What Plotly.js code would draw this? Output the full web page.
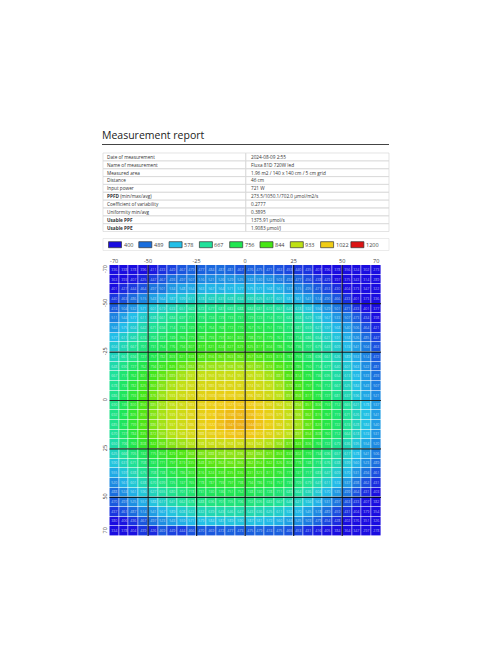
<!DOCTYPE html>
<html><head><meta charset="utf-8">
<script src="https://cdn.plot.ly/plotly-3.0.1.min.js"></script>
<style>html,body{margin:0;padding:0;background:#fff}#c{width:496px;height:664px}</style>
</head><body><div id="c"></div>
<script>
const titleText = "Measurement report";
const tableLabels = ["Date of measurement","Name of measurement","Measured area","Distance","Input power","<b>PPFD</b> (min/max/avg)","Coefficient of variability","Uniformity min/avg","<b>Usable PPF</b>","<b>Usable PPE</b>"];
const tableValues = ["2024-08-09 2:55","Fluxa 81D 720W led","1.96 m2 / 140 x 140 cm / 5 cm grid","46 cm","721 W","273.5/1050.1/702.0 µmol/m2/s","0.2777","0.3895","1375.91 µmol/s","1.9083 µmol/J"];
const legendValues = [400,489,578,667,756,844,933,1022,1200];
const legendColors = ["#1a0ce0","#1a6ede","#22bfe8","#1fe19a","#1fe650","#46e614","#bee114","#f0cc14","#dc1414"];
const xCenters = [-67.5,-62.5,-57.5,-52.5,-47.5,-42.5,-37.5,-32.5,-27.5,-22.5,-17.5,-12.5,-7.5,-2.5,2.5,7.5,12.5,17.5,22.5,27.5,32.5,37.5,42.5,47.5,52.5,57.5,62.5,67.5];
const yCenters = xCenters.slice();
const tickPositions = [-67.5,-50,-25,0,25,50,67.5];
const tickLabels = ["-70","-50","-25","0","25","50","70"];
const gridLines = [-50,-25,0,25,50];
const ppfd = [
[336,338,378,396,411,433,449,467,479,477,484,487,481,467,476,475,471,463,453,440,435,407,396,378,356,324,302,273],
[363,393,407,425,447,467,493,497,507,516,521,526,529,525,532,530,522,503,492,477,456,438,429,397,375,343,314,289],
[401,427,444,464,497,501,534,548,554,563,567,564,571,577,575,571,568,561,537,515,495,471,453,430,404,373,347,322],
[440,463,486,515,543,564,587,599,611,618,622,631,628,634,630,625,617,601,581,561,541,514,490,466,433,401,373,336],
[474,504,532,571,601,619,633,651,669,672,677,681,683,688,684,681,672,661,640,618,592,556,529,501,471,433,401,377],
[511,544,577,611,638,661,684,697,711,719,724,729,733,731,729,723,714,701,682,658,629,598,567,533,507,473,434,398],
[544,575,604,642,671,694,714,733,749,757,764,768,772,770,767,761,751,735,713,687,659,627,597,568,540,506,464,421],
[577,611,640,674,702,727,749,765,779,788,793,797,801,803,798,791,779,761,739,714,686,654,621,591,558,526,485,447],
[604,637,667,701,731,754,776,794,807,817,821,824,827,829,825,817,804,786,764,736,707,675,643,609,574,541,504,463],
[627,661,694,727,757,782,803,821,838,849,856,861,863,862,857,848,833,813,787,759,728,696,661,626,589,553,514,472],
[648,690,727,762,794,821,845,866,884,896,903,907,908,906,901,891,874,850,819,785,750,714,677,640,601,563,522,481],
[667,717,762,801,834,863,889,913,931,943,950,953,954,951,945,933,914,887,853,814,775,736,695,654,613,574,533,493],
[678,733,782,825,860,891,918,941,960,973,980,984,985,981,974,961,941,913,878,838,797,755,712,667,625,584,543,507],
[686,741,793,840,876,906,933,958,979,994,1003,1008,1009,1005,996,982,961,933,897,858,817,773,727,681,637,596,553,521],
[690,745,800,850,885,912,936,961,983,1002,1014,1021,1027,1029,1023,1009,990,964,932,894,851,806,759,712,665,621,578,537],
[692,748,805,855,890,916,939,963,986,1004,1018,1030,1038,1041,1036,1024,1005,979,946,906,862,815,767,719,671,626,583,541],
[685,742,799,850,886,913,937,962,986,1006,1022,1035,1047,1050,1044,1031,1011,984,951,911,867,820,771,722,674,628,584,540],
[670,727,784,835,872,900,924,948,970,988,1003,1017,1028,1031,1026,1012,992,967,935,897,854,808,760,712,664,618,574,531],
[650,706,760,808,842,868,890,908,924,938,948,954,958,959,953,942,925,904,877,843,806,765,722,679,636,595,554,520],
[625,666,705,742,775,804,829,851,868,880,888,892,895,896,892,884,871,853,830,802,770,734,696,657,617,578,541,506],
[590,631,671,708,741,771,797,819,835,848,857,862,866,866,862,854,842,826,804,778,748,713,676,638,599,560,523,489],
[555,597,638,675,708,738,764,786,803,816,824,830,835,836,831,823,811,795,773,747,717,683,647,609,570,531,494,461],
[520,561,601,638,670,699,725,747,765,778,787,793,797,798,794,786,774,757,735,709,679,647,611,574,537,498,462,431],
[488,524,561,596,627,655,680,701,718,731,740,746,751,752,748,740,728,711,689,664,636,604,570,535,499,464,431,403],
[470,497,525,557,588,617,641,662,678,688,696,701,705,706,702,695,683,667,646,621,594,563,531,497,463,433,407,382],
[437,461,487,514,541,567,589,608,622,632,639,643,646,647,643,636,625,611,592,570,545,518,489,459,431,404,379,354],
[380,406,436,467,497,523,543,559,571,579,584,587,589,590,587,581,572,560,544,525,503,479,454,428,402,376,351,326],
[334,378,404,439,426,469,449,444,466,470,469,472,477,473,475,479,474,475,465,453,431,416,405,384,364,347,297,278]
];

const W = 496, H = 664;
const px = x => x / W, py = y => 1 - y / H;
const FONT = '"Open Sans", sans-serif';
const shapes = [], annotations = [];
const rect = (x0, y0, x1, y1, fill, lc, lw) => shapes.push({type:"rect",xref:"paper",yref:"paper",x0:px(x0),x1:px(x1),y0:py(y0),y1:py(y1),fillcolor:fill,line:{color:lc,width:lw},layer:"above"});
const line = (x0, y0, x1, y1, c, w) => shapes.push({type:"line",xref:"paper",yref:"paper",x0:px(x0),x1:px(x1),y0:py(y0),y1:py(y1),line:{color:c,width:w},layer:"above"});
const label = (x, y, text, size, color) => annotations.push({xref:"paper",yref:"paper",x:px(x),y:py(y),text,showarrow:false,xanchor:"left",yanchor:"middle",align:"left",font:{family:FONT,size,color},borderpad:0});

label(101, 134.8, titleText, 10.5, "#222");
line(102, 144.5, 389, 144.5, "#444", 1);

const tTop = 153, rowH = 7.85, tL = 103, tR = 389, tMid = 245.7;
tableLabels.forEach((t, i) => {
  const y = tTop + i * rowH;
  rect(tL, y, tMid, y + rowH, "rgba(0,0,0,0)", "#d8d8d8", 0.7);
  rect(tMid, y, tR, y + rowH, "rgba(0,0,0,0)", "#d8d8d8", 0.7);
  label(106, y + rowH / 2, t, 4.7, "#333");
  label(250, y + rowH / 2, tableValues[i], 4.7, "#333");
});

rect(103, 238.5, 389, 250.5, "rgba(0,0,0,0)", "#e2e2e2", 0.7);
legendValues.forEach((v, i) => {
  const x = 108.5 + i * 30.3;
  rect(x, 241.7, x + 13, 247.7, legendColors[i], "#333", 0.7);
  label(x + 14, 244.7, String(v), 5.5, "#444");
});

gridLines.forEach(v => {
  shapes.push({type:"line",xref:"x",yref:"y",x0:v,x1:v,y0:-70,y1:70,line:{color:"rgba(0,0,0,0.8)",width:1.2},layer:"above"});
  shapes.push({type:"line",xref:"x",yref:"y",x0:-70,x1:70,y0:v,y1:v,line:{color:"rgba(0,0,0,0.8)",width:1.2},layer:"above"});
});

const zMin = legendValues[0], zMax = legendValues[legendValues.length - 1];
const colorscale = legendValues.map((v, i) => [(v - zMin) / (zMax - zMin), legendColors[i]]);

const trace = {type:"heatmap",x:xCenters,y:yCenters,z:ppfd,zmin:zMin,zmax:zMax,colorscale,showscale:false,
  xgap:0.6,ygap:0.6,texttemplate:"%{z}",textfont:{family:FONT,size:3.6,color:"rgba(255,255,255,0.65)"},hoverinfo:"skip"};

const tickFont = {family:FONT,size:5.5,color:"#444"};
const layout = {
  width:W,height:H,margin:{l:0,r:0,t:0,b:0},paper_bgcolor:"#fff",plot_bgcolor:"#fff",showlegend:false,
  xaxis:{domain:[px(109.3),px(381)],range:[-70,70],side:"top",tickmode:"array",tickvals:tickPositions,ticktext:tickLabels,ticks:"",showgrid:false,zeroline:false,showline:false,tickfont:tickFont,automargin:false},
  yaxis:{domain:[py(536),py(265)],range:[70,-70],tickmode:"array",tickvals:tickPositions,ticktext:tickLabels,ticks:"",tickangle:-90,showgrid:false,zeroline:false,showline:false,tickfont:tickFont,automargin:false},
  shapes,annotations
};
Plotly.newPlot("c",[trace],layout,{displayModeBar:false,staticPlot:true});
</script></body></html>
